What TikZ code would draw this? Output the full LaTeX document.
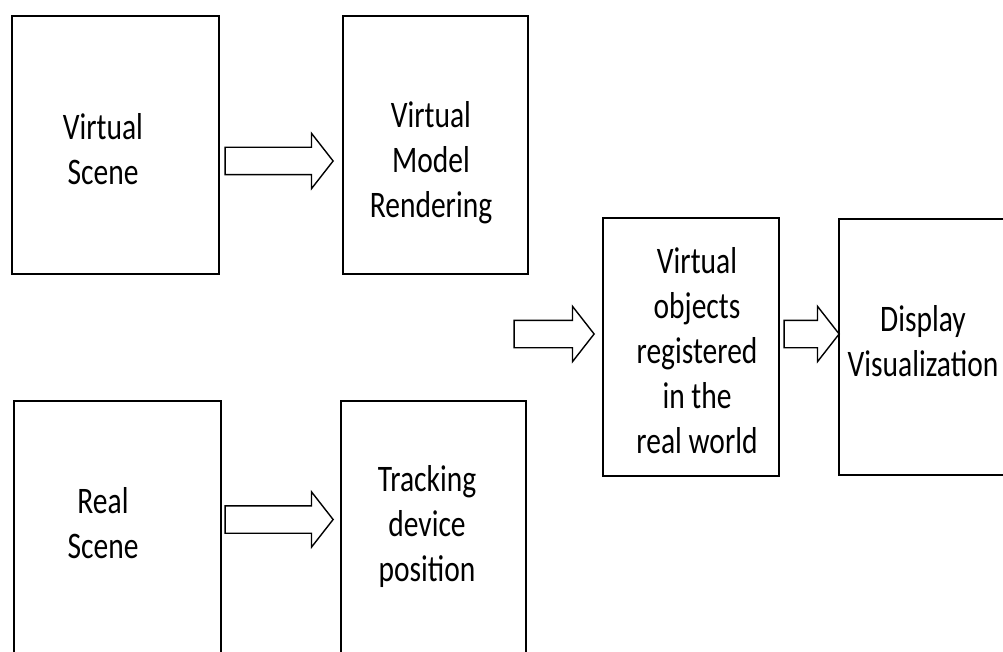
\documentclass[tikz,border=0pt]{standalone}
\usepackage{fontspec}
\setmainfont{Carlito}
\usetikzlibrary{shapes.arrows, positioning}

\tikzset{
  box/.style={draw, line width=1.8pt, rectangle, inner sep=0pt},
  lbl/.style={align=center, inner sep=0pt, yscale=1.27, font=\fontsize{29.5}{35.4}\selectfont},
  fatarrow/.style={draw, line width=1.4pt, single arrow, single arrow head extend=14pt,
    single arrow tip angle=104, single arrow head indent=0pt,
    inner xsep=0pt, inner ysep=13pt, minimum width=54pt, anchor=tip}
}

\begin{document}
\begin{tikzpicture}[x=1pt, y=-1pt]
  \clip (0,0) rectangle (1003,652);

  % Virtual side
  \node[box, minimum width=207pt, minimum height=258pt] (vs) at (115.5,145) {};
  \node[lbl] (vs-t) at (103,149) {Virtual\\Scene};
  \node[box, minimum width=185pt, minimum height=258pt] (vmr) at (435.5,145) {};
  \node[lbl] (vmr-t) at (431,162.5) {Virtual\\Model\\Rendering};

  % Real side
  \node[box, minimum width=207pt, minimum height=259pt] (rs) at (117.5,530.5) {};
  \node[lbl] (rs-t) at (103,523.5) {Real\\Scene};
  \node[box, minimum width=185pt, minimum height=259pt] (tdp) at (433.5,530.5) {};
  \node[lbl] (tdp-t) at (427,526.5) {Tracking\\device\\position};

  % Registration and display
  \node[box, minimum width=176pt, minimum height=258pt] (vo) at (691,347) {};
  \node[lbl] (vo-t) at (697,351) {Virtual\\objects\\registered\\in the\\real world};
  \node[box, minimum width=171pt, minimum height=256pt] (dv) at (924.5,347) {};
  \node[lbl] (dv-t) at (923,341) {Display\\Visualization};

  % Block arrows (placed by their tips)
  \node[fatarrow, minimum height=108pt] (a1) at (334,161) {};
  \node[fatarrow, minimum height=108pt] (a2) at (334,519.5) {};
  \node[fatarrow, minimum height=80pt] (a3) at (595,334) {};
  \node[fatarrow, minimum height=55pt] (a4) at (840,334) {};
\end{tikzpicture}
\end{document}
